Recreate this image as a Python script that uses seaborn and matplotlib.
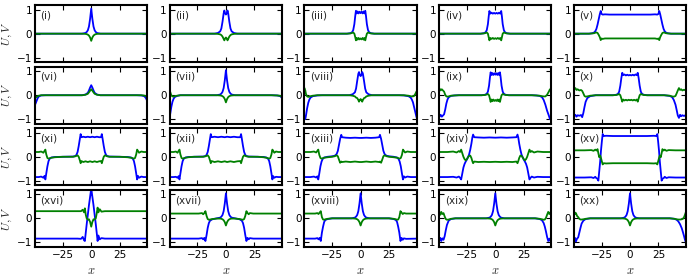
import matplotlib
matplotlib.use("Agg")
import matplotlib.pyplot as plt
import seaborn as sns

labels = ['(i)', '(ii)', '(iii)', '(iv)', '(v)',
          '(vi)', '(vii)', '(viii)', '(ix)', '(x)',
          '(xi)', '(xii)', '(xiii)', '(xiv)', '(xv)',
          '(xvi)', '(xvii)', '(xviii)', '(xix)', '(xx)']

# values, one set of knots per panel
x_i = [-50, -8, -5, -4, -3, -2, -1, 0, 1, 2, 3, 4, 5, 8, 50]
u_i = [0, 0, 0.03, 0.07, 0.14, 0.3, 0.62, 1.05, 0.62, 0.3, 0.14, 0.07, 0.03, 0, 0]
v_i = [0, 0, -0.01, -0.02, -0.04, -0.08, -0.16, -0.3, -0.16, -0.08, -0.04, -0.02, -0.01, 0, 0]

x_ii = [-50, -10, -7, -5, -4, -3, -2, -1.4, -0.7, 0, 0.7, 1.4, 2, 3, 4, 5, 7, 10, 50]
u_ii = [0, 0, 0.03, 0.1, 0.22, 0.5, 0.85, 0.97, 0.85, 0.8, 0.85, 0.97, 0.85, 0.5, 0.22, 0.1, 0.03, 0, 0]
v_ii = [0, 0, -0.01, -0.03, -0.06, -0.12, -0.22, -0.28, -0.2, -0.16, -0.2, -0.28, -0.22, -0.12, -0.06, -0.03, -0.01, 0, 0]

x_iii = [-50, -12, -9, -7.5, -6.5, -5.5, -4.7, -4.1, -3.4, -2.6, -1.8, -0.9, 0,
         0.9, 1.8, 2.6, 3.4, 4.1, 4.7, 5.5, 6.5, 7.5, 9, 12, 50]
u_iii = [0, 0, 0.02, 0.06, 0.15, 0.4, 0.75, 0.96, 0.85, 0.93, 0.85, 0.92, 0.86,
         0.92, 0.85, 0.93, 0.85, 0.96, 0.75, 0.4, 0.15, 0.06, 0.02, 0, 0]
v_iii = [0, 0, 0.01, 0.03, 0.05, 0.0, -0.15, -0.28, -0.18, -0.25, -0.18, -0.24, -0.2,
         -0.24, -0.18, -0.25, -0.18, -0.28, -0.15, 0.0, 0.05, 0.03, 0.01, 0, 0]

x_iv = [-50, -13, -10, -8.5, -7.5, -6.5, -5.8, -5.2, -4.3, -3.3, -2.2, -1.1, 0,
        1.1, 2.2, 3.3, 4.3, 5.2, 5.8, 6.5, 7.5, 8.5, 10, 13, 50]
u_iv = [0, 0, 0.02, 0.06, 0.15, 0.4, 0.72, 0.95, 0.84, 0.88, 0.84, 0.87, 0.84,
        0.87, 0.84, 0.88, 0.84, 0.95, 0.72, 0.4, 0.15, 0.06, 0.02, 0, 0]
v_iv = [0, 0, 0.01, 0.03, 0.05, 0.0, -0.15, -0.28, -0.18, -0.22, -0.18, -0.22, -0.19,
        -0.22, -0.18, -0.22, -0.18, -0.28, -0.15, 0.0, 0.05, 0.03, 0.01, 0, 0]

x_v = [-50, -36, -33, -31.5, -30.5, -29.5, -28.5, -27.5, -26.5, -25.7, -25, -24, -22, -18, -12, -6, 0,
       6, 12, 18, 22, 24, 25, 25.7, 26.5, 27.5, 28.5, 29.5, 30.5, 31.5, 33, 36, 50]
u_v = [0, 0, 0.02, 0.05, 0.1, 0.2, 0.38, 0.6, 0.82, 0.95, 0.83, 0.8, 0.81, 0.8, 0.8, 0.8, 0.8,
       0.8, 0.8, 0.8, 0.81, 0.8, 0.83, 0.95, 0.82, 0.6, 0.38, 0.2, 0.1, 0.05, 0.02, 0, 0]
v_v = [0, 0, 0.01, 0.02, 0.04, 0.05, 0.03, -0.05, -0.15, -0.27, -0.2, -0.22, -0.2, -0.2, -0.2, -0.2, -0.2,
       -0.2, -0.2, -0.2, -0.2, -0.22, -0.2, -0.27, -0.15, -0.05, 0.03, 0.05, 0.04, 0.02, 0.01, 0, 0]

x_vi = [-50, -49, -48, -47, -46, -44, -40, -8, -5, -3, -2, -1, 0,
        1, 2, 3, 5, 8, 40, 44, 46, 47, 48, 49, 50]
u_vi = [-0.45, -0.36, -0.24, -0.12, -0.05, -0.01, 0, 0, 0.03, 0.1, 0.2, 0.32, 0.42,
        0.32, 0.2, 0.1, 0.03, 0, 0, -0.01, -0.03, -0.06, -0.12, -0.22, -0.35]
v_vi = [-0.15, -0.11, -0.07, -0.04, -0.02, 0, 0, 0, 0.02, 0.06, 0.12, 0.19, 0.25,
        0.19, 0.12, 0.06, 0.02, 0, 0, 0, -0.01, -0.02, -0.04, -0.07, -0.1]

x_vii = [-50, -49.5, -49, -48, -47, -46, -45, -43, -40,
         -8, -5, -4, -3, -2, -1, 0, 1, 2, 3, 4, 5, 8,
         40, 45, 47, 48, 49, 50]
u_vii = [-1.05, -1.0, -0.8, -0.5, -0.28, -0.15, -0.08, -0.03, 0,
         0, 0.03, 0.07, 0.14, 0.3, 0.62, 1.05, 0.62, 0.3, 0.14, 0.07, 0.03, 0,
         0, -0.01, -0.03, -0.05, -0.1, -0.2]
v_vii = [0.3, 0.27, 0.15, 0.0, -0.05, -0.06, -0.04, -0.02, 0,
         0, -0.01, -0.02, -0.04, -0.08, -0.16, -0.3, -0.16, -0.08, -0.04, -0.02, -0.01, 0,
         0, -0.01, -0.02, -0.03, -0.05, -0.08]

x_viii = [-50, -49.3, -48.6, -48, -47, -46, -45, -44, -42, -38, -34,
          -10, -7, -5, -4, -3, -2, -1.4, -0.7, 0, 0.7, 1.4, 2, 3, 4, 5, 7, 10,
          34, 38, 42, 44, 45, 46, 47, 48, 49, 50]
u_viii = [-0.75, -0.95, -1.0, -0.85, -0.55, -0.32, -0.18, -0.1, -0.04, -0.01, 0,
          0, 0.04, 0.12, 0.28, 0.6, 0.9, 0.97, 0.85, 0.8, 0.85, 0.97, 0.9, 0.6, 0.28, 0.12, 0.04, 0,
          0, -0.01, -0.04, -0.1, -0.18, -0.3, -0.5, -0.7, -0.9, -1.05]
v_viii = [0.25, 0.3, 0.2, 0.05, -0.05, -0.07, -0.06, -0.04, -0.02, 0, 0,
          0, -0.02, -0.05, -0.1, -0.12, -0.2, -0.27, -0.2, -0.16, -0.2, -0.27, -0.2, -0.12, -0.1, -0.05, -0.02, 0,
          0, 0, -0.02, -0.04, -0.05, -0.05, -0.03, 0.05, 0.15, 0.22]

x_ix = [-50, -49, -48, -47, -46, -45, -44, -43, -42, -41, -39, -36, -32,
        -12, -9, -7.5, -6.5, -5.5, -4.7, -4.1, -3.4, -2.6, -1.8, -0.9, 0,
        0.9, 1.8, 2.6, 3.4, 4.1, 4.7, 5.5, 6.5, 7.5, 9, 12,
        32, 36, 39, 41, 42.5, 44, 45.5, 47, 48, 49, 50]
u_ix = [-0.85, -0.9, -0.82, -0.9, -0.85, -0.8, -0.6, -0.35, -0.18, -0.09, -0.03, -0.01, 0,
        0, 0.02, 0.06, 0.15, 0.4, 0.75, 0.96, 0.85, 0.93, 0.85, 0.92, 0.86,
        0.92, 0.85, 0.93, 0.85, 0.96, 0.75, 0.4, 0.15, 0.06, 0.02, 0,
        0, -0.01, -0.03, -0.08, -0.2, -0.4, -0.65, -0.85, -1.0, -0.88, -0.92]
v_ix = [0.2, 0.28, 0.2, 0.25, 0.2, 0.15, 0.02, -0.05, -0.06, -0.05, -0.02, -0.01, 0,
        0, 0.01, 0.03, 0.05, 0.0, -0.15, -0.28, -0.18, -0.25, -0.18, -0.24, -0.2,
        -0.24, -0.18, -0.25, -0.18, -0.28, -0.15, 0.0, 0.05, 0.03, 0.01, 0,
        0, -0.01, -0.02, -0.04, -0.05, -0.05, 0.02, 0.15, 0.25, 0.2, 0.25]

x_x = [-50, -49, -48, -47, -46, -44.5, -43, -42, -41, -40, -39, -37.5, -35, -30,
       -15, -12, -10.5, -9.5, -8.5, -7.6, -6.8, -6, -4.8, -3.6, -2.4, -1.2, 0,
       1.2, 2.4, 3.6, 4.8, 6, 6.8, 7.6, 8.5, 9.5, 10.5, 12, 15,
       30, 35, 37, 38.5, 40, 41, 42, 43, 44, 45, 46, 47.5, 49, 50]
u_x = [-0.85, -0.88, -0.82, -0.9, -0.84, -0.86, -0.83, -0.92, -0.75, -0.5, -0.28, -0.12, -0.04, 0,
       0, 0.02, 0.06, 0.15, 0.4, 0.72, 0.94, 0.84, 0.87, 0.83, 0.86, 0.83, 0.85,
       0.83, 0.86, 0.83, 0.87, 0.84, 0.94, 0.72, 0.4, 0.15, 0.06, 0.02, 0,
       0, -0.03, -0.08, -0.2, -0.4, -0.62, -0.85, -0.95, -0.82, -0.88, -0.84, -0.87, -0.83, -0.86]
v_x = [0.2, 0.24, 0.3, 0.22, 0.25, 0.2, 0.22, 0.18, 0.08, -0.03, -0.06, -0.05, -0.02, 0,
       0, 0.01, 0.03, 0.05, 0.0, -0.14, -0.27, -0.18, -0.22, -0.19, -0.22, -0.19, -0.21,
       -0.19, -0.22, -0.19, -0.22, -0.18, -0.27, -0.14, 0.0, 0.05, 0.03, 0.01, 0,
       0, -0.02, -0.05, -0.06, -0.03, 0.08, 0.2, 0.3, 0.22, 0.25, 0.2, 0.23, 0.2, 0.22]

x_xi = [-50, -46, -44, -42, -41, -40.3, -39.5, -38.5, -37.5, -36.5, -35, -32, -25, -16, -14, -13, -12, -11, -10, -9.3, -8.6,
        -7, -5, -3, -1, 1, 3, 5, 7,
        8.6, 9.3, 10, 11, 12, 13, 14, 16, 25, 32, 35, 36.5, 37.5, 38.5, 39.5, 40.3, 41, 42, 44, 46, 50]
u_xi = [-0.85, -0.85, -0.83, -0.88, -0.8, -0.95, -0.7, -0.4, -0.18, -0.08, -0.03, -0.01, 0, 0.01, 0.03, 0.08, 0.2, 0.45, 0.75, 0.95, 0.82,
        0.84, 0.82, 0.84, 0.82, 0.84, 0.82, 0.84, 0.82,
        0.82, 0.95, 0.75, 0.45, 0.2, 0.08, 0.03, 0.01, 0, -0.01, -0.03, -0.08, -0.18, -0.4, -0.7, -0.95, -0.8, -0.88, -0.83, -0.85, -0.85]
v_xi = [0.2, 0.2, 0.22, 0.17, 0.25, 0.3, 0.1, -0.05, -0.08, -0.06, -0.04, -0.02, 0, 0, 0.02, 0.04, 0.06, 0.0, -0.15, -0.27, -0.18,
        -0.22, -0.19, -0.22, -0.19, -0.22, -0.19, -0.22, -0.19,
        -0.18, -0.27, -0.15, 0.0, 0.06, 0.04, 0.02, 0, 0, -0.02, -0.04, -0.06, -0.08, -0.05, 0.1, 0.3, 0.25, 0.17, 0.22, 0.2, 0.2]

x_xii = [-50, -46, -44, -42.5, -41.5, -40.8, -40, -39, -38, -37, -35.5, -33, -28, -20, -18, -17, -16, -15, -14, -13.3, -12.6,
         -10, -7, -4, -1, 1, 4, 7, 10,
         12.6, 13.3, 14, 15, 16, 17, 18, 20, 28, 33, 35.5, 37, 38, 39, 40, 40.8, 41.5, 42.5, 44, 46, 50]
u_xii = [-0.85, -0.85, -0.84, -0.88, -0.81, -0.95, -0.7, -0.4, -0.18, -0.08, -0.03, -0.01, 0, 0.01, 0.03, 0.08, 0.2, 0.45, 0.75, 0.95, 0.82,
         0.84, 0.82, 0.84, 0.82, 0.84, 0.82, 0.84, 0.82,
         0.82, 0.95, 0.75, 0.45, 0.2, 0.08, 0.03, 0.01, 0, -0.01, -0.03, -0.08, -0.18, -0.4, -0.7, -0.95, -0.81, -0.88, -0.84, -0.85, -0.85]
v_xii = [0.2, 0.2, 0.22, 0.17, 0.25, 0.3, 0.1, -0.05, -0.08, -0.06, -0.04, -0.02, 0, 0, 0.02, 0.04, 0.06, 0.0, -0.15, -0.27, -0.18,
         -0.22, -0.19, -0.22, -0.19, -0.22, -0.19, -0.22, -0.19,
         -0.18, -0.27, -0.15, 0.0, 0.06, 0.04, 0.02, 0, 0, -0.02, -0.04, -0.06, -0.08, -0.05, 0.1, 0.3, 0.25, 0.17, 0.22, 0.2, 0.2]

x_xiii = [-50, -44, -41, -39, -38, -37.2, -36.3, -35.3, -34.3, -33.3, -32, -29, -25, -23, -22, -21, -20, -19, -18, -17, -16.3,
          -13, -9, -5, -1, 1, 5, 9, 13,
          16.3, 17, 18, 19, 20, 21, 22, 23, 25, 29, 32, 33.3, 34.3, 35.3, 36.3, 37.2, 38, 39, 41, 44, 50]
u_xiii = [-0.85, -0.85, -0.83, -0.87, -0.82, -0.95, -0.7, -0.4, -0.2, -0.09, -0.03, 0.0, 0.02, 0.04, 0.07, 0.12, 0.25, 0.5, 0.75, 0.92, 0.82,
          0.8, 0.79, 0.8, 0.79, 0.79, 0.8, 0.79, 0.8,
          0.82, 0.92, 0.75, 0.5, 0.25, 0.12, 0.07, 0.04, 0.02, 0.0, -0.03, -0.09, -0.2, -0.4, -0.7, -0.95, -0.82, -0.87, -0.83, -0.85, -0.85]
v_xiii = [0.2, 0.2, 0.22, 0.18, 0.25, 0.3, 0.08, -0.05, -0.08, -0.06, -0.04, -0.02, 0.0, 0.02, 0.04, 0.06, 0.02, -0.12, -0.25, -0.2, -0.22,
          -0.2, -0.22, -0.2, -0.22, -0.22, -0.2, -0.22, -0.2,
          -0.22, -0.2, -0.25, -0.12, 0.02, 0.06, 0.04, 0.02, 0.0, -0.02, -0.04, -0.06, -0.08, -0.05, 0.08, 0.3, 0.25, 0.18, 0.22, 0.2, 0.2]

x_xiv = [-50, -42, -37, -34, -32, -31, -30, -29, -28, -27, -26, -25, -24, -23, -22, -21, -20.2, -19.5, -18.5,
         -15, -10, -5, 0, 5, 10, 15,
         18.5, 19.5, 20.2, 21, 22, 23, 24, 25, 26, 27, 28, 29, 30, 31, 32, 34, 37, 42, 50]
u_xiv = [-0.85, -0.85, -0.84, -0.87, -0.83, -0.88, -0.95, -0.7, -0.45, -0.3, -0.2, -0.12, -0.02, 0.1, 0.3, 0.55, 0.8, 0.93, 0.82,
         0.81, 0.8, 0.81, 0.8, 0.81, 0.8, 0.81,
         0.82, 0.93, 0.8, 0.55, 0.3, 0.1, -0.02, -0.12, -0.2, -0.3, -0.45, -0.7, -0.95, -0.88, -0.83, -0.87, -0.84, -0.85, -0.85]
v_xiv = [0.2, 0.2, 0.22, 0.18, 0.24, 0.2, 0.3, 0.15, 0.0, -0.1, -0.15, -0.1, -0.02, 0.04, 0.05, -0.05, -0.18, -0.27, -0.2,
         -0.22, -0.21, -0.22, -0.21, -0.22, -0.21, -0.22,
         -0.2, -0.27, -0.18, -0.05, 0.05, 0.04, -0.02, -0.1, -0.15, -0.1, 0.0, 0.15, 0.3, 0.2, 0.24, 0.18, 0.22, 0.2, 0.2]

x_xv = [-50, -40, -34, -32, -30.5, -29.5, -28.5, -27.8, -27, -26.2, -25.5, -24.7, -24, -23, -21, -15, -8, 0,
        8, 15, 21, 23, 24, 24.7, 25.5, 26.2, 27, 27.8, 28.5, 29.5, 30.5, 32, 34, 40, 50]
u_xv = [-0.87, -0.87, -0.86, -0.89, -0.84, -0.9, -0.92, -1.0, -0.6, -0.2, 0.25, 0.65, 0.95, 0.87, 0.88, 0.87, 0.87, 0.87,
        0.87, 0.87, 0.88, 0.87, 0.95, 0.65, 0.25, -0.2, -0.6, -1.0, -0.92, -0.9, -0.84, -0.89, -0.86, -0.87, -0.87]
v_xv = [0.27, 0.27, 0.28, 0.25, 0.3, 0.26, 0.32, 0.15, -0.02, 0.05, -0.05, -0.2, -0.32, -0.27, -0.28, -0.27, -0.27, -0.27,
        -0.27, -0.27, -0.28, -0.27, -0.32, -0.2, -0.05, 0.05, -0.02, 0.15, 0.32, 0.26, 0.3, 0.25, 0.28, 0.27, 0.27]

x_xvi = [-50, -12, -9, -7.5, -6.3, -5.6, -4.8, -4, -3, -2, -1, 0,
         1, 2, 3, 4, 4.8, 5.6, 6.3, 7.5, 9, 12, 50]
u_xvi = [-0.85, -0.85, -0.86, -0.78, -0.92, -0.95, -0.6, -0.25, 0.15, 0.55, 0.9, 1.25,
         0.9, 0.55, 0.15, -0.25, -0.6, -0.95, -0.72, -0.88, -0.83, -0.85, -0.85]
v_xvi = [0.3, 0.3, 0.3, 0.36, 0.25, 0.42, 0.15, 0.0, -0.05, -0.04, -0.15, -0.35,
         -0.15, -0.04, -0.05, 0.0, 0.2, 0.45, 0.25, 0.38, 0.28, 0.3, 0.3]

x_xvii = [-50, -24, -21, -20, -19, -18, -17, -16, -15, -14, -12, -8, -5, -4, -3, -2, -1, 0,
          1, 2, 3, 4, 5, 8, 12, 14, 15, 16, 17, 18, 19, 20, 21, 24, 50]
u_xvii = [-0.85, -0.85, -0.83, -0.88, -0.82, -0.95, -0.7, -0.4, -0.2, -0.1, -0.04, 0.0, 0.03, 0.07, 0.14, 0.3, 0.62, 1.05,
          0.62, 0.3, 0.14, 0.07, 0.03, 0.0, -0.04, -0.1, -0.2, -0.4, -0.7, -0.95, -0.82, -0.88, -0.83, -0.85, -0.85]
v_xvii = [0.2, 0.2, 0.22, 0.17, 0.22, 0.3, 0.1, -0.03, -0.06, -0.05, -0.03, -0.01, -0.01, -0.02, -0.04, -0.08, -0.16, -0.3,
          -0.16, -0.08, -0.04, -0.02, -0.01, -0.01, -0.03, -0.05, -0.06, -0.03, 0.1, 0.3, 0.22, 0.17, 0.22, 0.2, 0.2]

x_xviii = [-50, -40, -38, -37, -36, -35, -34, -33, -32, -31, -29, -25, -8, -5, -4, -3, -2, -1, 0,
           1, 2, 3, 4, 5, 8, 25, 29, 31, 32, 33, 34, 35, 36, 37, 38, 40, 50]
u_xviii = [-0.85, -0.85, -0.83, -0.88, -0.82, -0.95, -0.6, -0.35, -0.15, -0.07, -0.03, 0, 0, 0.03, 0.07, 0.14, 0.3, 0.62, 1.05,
           0.62, 0.3, 0.14, 0.07, 0.03, 0, 0, -0.03, -0.07, -0.15, -0.35, -0.6, -0.95, -0.82, -0.9, -0.84, -0.86, -0.85]
v_xviii = [0.2, 0.2, 0.22, 0.18, 0.24, 0.3, 0.05, -0.05, -0.06, -0.04, -0.02, 0, 0, -0.01, -0.02, -0.04, -0.08, -0.16, -0.3,
           -0.16, -0.08, -0.04, -0.02, -0.01, 0, 0, -0.02, -0.04, -0.06, -0.05, 0.05, 0.3, 0.24, 0.18, 0.22, 0.2, 0.2]

x_xix = [-50, -49, -48.3, -47.5, -46.5, -45.5, -44.5, -43.5, -42.5, -41, -39, -35, -8, -5, -4, -3, -2, -1, 0,
         1, 2, 3, 4, 5, 8, 35, 39, 41, 42.5, 43.5, 44.5, 45.5, 46.5, 47.5, 48.3, 49, 50]
u_xix = [-0.85, -0.92, -0.82, -0.95, -0.84, -0.9, -0.75, -0.5, -0.28, -0.1, -0.03, 0, 0, 0.03, 0.07, 0.14, 0.3, 0.62, 1.05,
         0.62, 0.3, 0.14, 0.07, 0.03, 0, 0, -0.03, -0.08, -0.2, -0.35, -0.55, -0.78, -0.95, -0.85, -0.95, -0.82, -0.88]
v_xix = [0.2, 0.25, 0.15, 0.27, 0.18, 0.22, 0.08, -0.03, -0.06, -0.05, -0.02, 0, 0, -0.01, -0.02, -0.04, -0.08, -0.16, -0.3,
         -0.16, -0.08, -0.04, -0.02, -0.01, 0, 0, -0.02, -0.04, -0.06, -0.05, 0.02, 0.15, 0.27, 0.18, 0.25, 0.2, 0.3]

x_xx = [-50, -49, -48.3, -47.5, -46.5, -45.5, -44.5, -43.5, -42.5, -41, -39, -35, -8, -5, -4, -3, -2, -1, 0,
        1, 2, 3, 4, 5, 8, 35, 39, 41, 42.5, 44, 45.5, 46.5, 47.5, 48.3, 49, 49.5, 50]
u_xx = [-0.85, -0.95, -0.82, -0.97, -0.85, -0.8, -0.6, -0.4, -0.22, -0.1, -0.03, 0, 0, 0.03, 0.07, 0.14, 0.3, 0.62, 1.05,
        0.62, 0.3, 0.14, 0.07, 0.03, 0, 0, -0.02, -0.06, -0.13, -0.25, -0.42, -0.58, -0.75, -0.9, -1.0, -0.95, -0.9]
v_xx = [0.2, 0.28, 0.18, 0.22, 0.1, 0.05, -0.02, -0.05, -0.05, -0.04, -0.02, 0, 0, -0.01, -0.02, -0.04, -0.08, -0.16, -0.3,
        -0.16, -0.08, -0.04, -0.02, -0.01, 0, 0, -0.02, -0.04, -0.05, -0.05, -0.04, -0.02, 0.05, 0.15, 0.25, 0.3, 0.25]

panels = [(x_i, u_i, v_i), (x_ii, u_ii, v_ii), (x_iii, u_iii, v_iii), (x_iv, u_iv, v_iv), (x_v, u_v, v_v),
          (x_vi, u_vi, v_vi), (x_vii, u_vii, v_vii), (x_viii, u_viii, v_viii), (x_ix, u_ix, v_ix), (x_x, u_x, v_x),
          (x_xi, u_xi, v_xi), (x_xii, u_xii, v_xii), (x_xiii, u_xiii, v_xiii), (x_xiv, u_xiv, v_xiv), (x_xv, u_xv, v_xv),
          (x_xvi, u_xvi, v_xvi), (x_xvii, u_xvii, v_xvii), (x_xviii, u_xviii, v_xviii), (x_xix, u_xix, v_xix), (x_xx, u_xx, v_xx)]

sns.set_style("ticks")
plt.rcParams['font.family'] = ['DejaVu Sans']
plt.rcParams['mathtext.fontset'] = 'cm'

fig, axes = plt.subplots(4, 5, figsize=(7, 2.8), dpi=100, sharex=True)
fig.subplots_adjust(left=0.05, right=0.98, top=0.982, bottom=0.118, wspace=0.2, hspace=0.075)

for ax, label, (x, u, v) in zip(axes.flat, labels, panels):
    sns.lineplot(x=x, y=u, ax=ax, color='#0000ff', lw=1.3)
    sns.lineplot(x=x, y=v, ax=ax, color='#008000', lw=1.3)
    ax.set_xlim(-49.4, 49.2)
    ax.set_ylim(-1.2, 1.2)
    ax.set_xticks([-25, 0, 25])
    ax.set_yticks([-1, 0, 1])
    ax.tick_params(direction='in', top=True, right=True, length=3.5, width=0.8,
                   labelsize=7.5, pad=2, colors='black')
    for s in ax.spines.values():
        s.set_linewidth(1.5)
        s.set_color('black')
    ax.text(0.05, 0.82, label, transform=ax.transAxes, fontsize=7.5, va='center', ha='left')
    ax.set_xlabel('')
    ax.set_ylabel('')

# row labels: the coordinate is the right edge of the rotated text
for r in range(4):
    axes[r, 0].set_ylabel('$U,V$', fontsize=8.5)
    axes[r, 0].yaxis.set_label_coords(-0.19, 0.5)
for c in range(5):
    axes[3, c].set_xlabel('$x$', fontsize=9, labelpad=3)

fig.savefig('out.png', dpi=100)
